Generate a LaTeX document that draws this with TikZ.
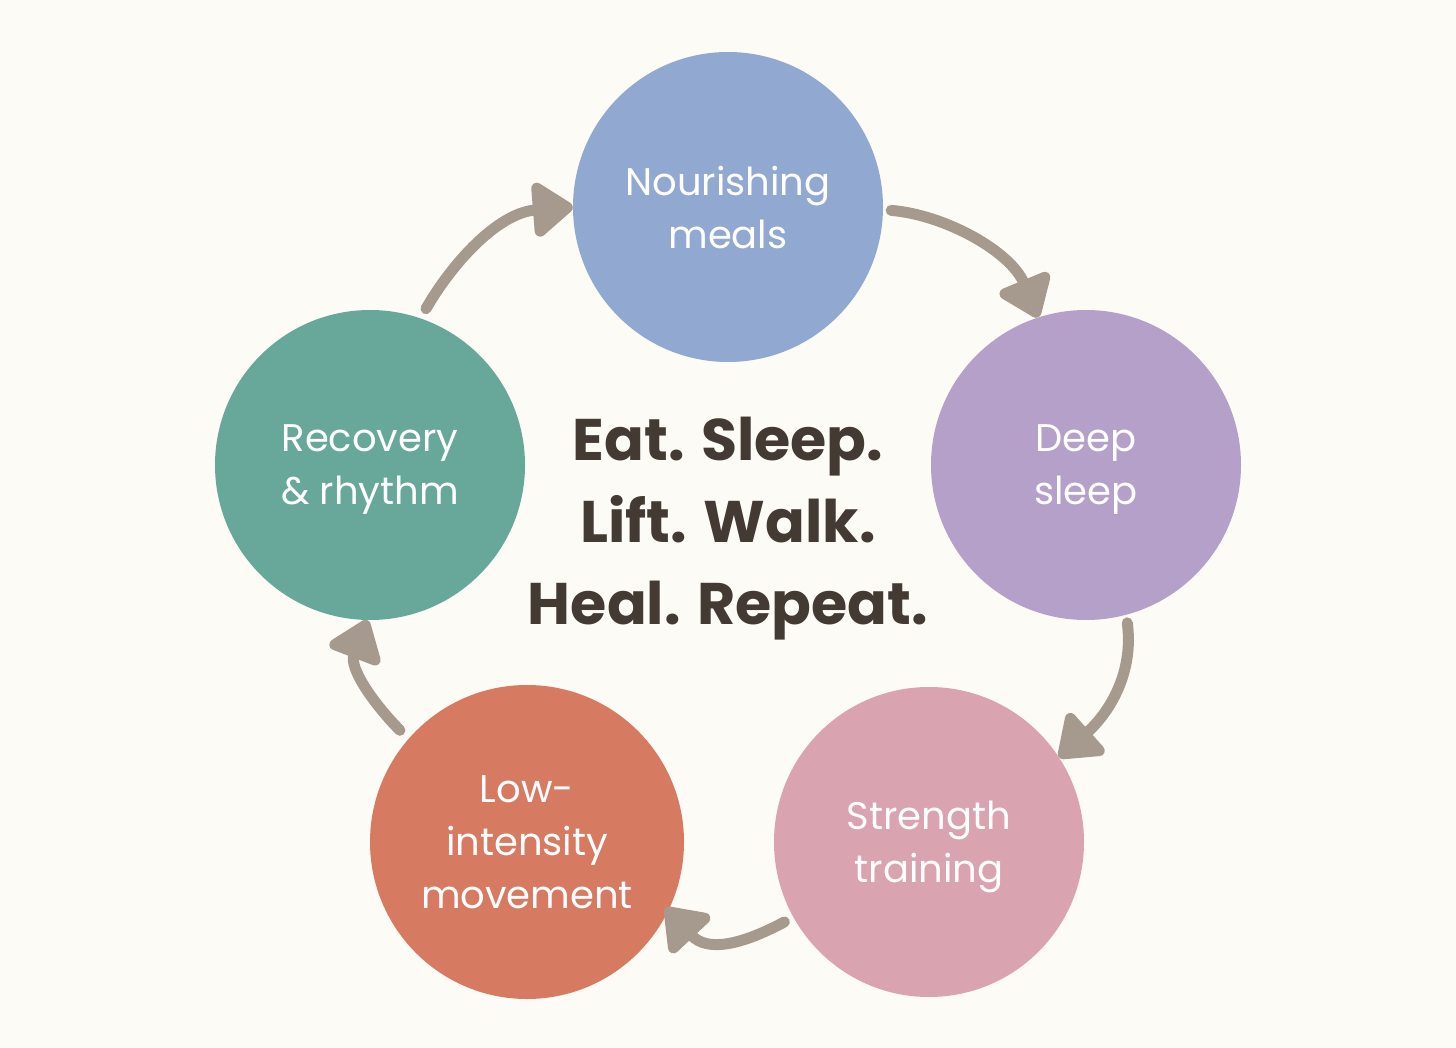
\documentclass[tikz,border=0pt]{standalone}
\usepackage{fontspec}
\setmainfont{Poppins}
\usetikzlibrary{arrows.meta}
\definecolor{bg}{HTML}{FDFBF6}
\definecolor{cmeal}{HTML}{91A8D0}
\definecolor{csleep}{HTML}{B4A0C8}
\definecolor{cstr}{HTML}{D9A3AF}
\definecolor{clow}{HTML}{D67B62}
\definecolor{crec}{HTML}{68A89B}
\definecolor{carr}{HTML}{A69A8E}
\definecolor{ctxt}{HTML}{433A33}
\tikzset{
  bubble/.style={circle, minimum size=310pt, inner sep=0pt, text=white, align=center,
    text depth=0pt, font=\fontsize{38.5}{53}\selectfont},
  arr/.style={line width=11pt, color=carr, line cap=round,
    -{Triangle[length=44pt,width=62pt,round]}},
}
\begin{document}
\begin{tikzpicture}[x=1pt,y=-1pt]
\fill[bg] (0,0) rectangle (1456,1048);
\useasboundingbox (0,0) rectangle (1456,1048);
\node[bubble, fill=cmeal] (n1) at (728,207) {Nourishing\\meals};
\node[bubble, fill=csleep] (n2) at (1086,465) {Deep\\sleep};
\node[bubble, fill=cstr] (n3) at (929,842) {Strength\\training};
\node[bubble, fill=clow, minimum size=314pt] (n4) at (527,842) {Low-\\intensity\\movement};
\node[bubble, fill=crec] (n5) at (370,465) {Recovery\\\& rhythm};
\node[align=center, text=ctxt, font=\fontsize{58.7}{82}\selectfont\bfseries] (c) at (728,529) {Eat. Sleep.\\Lift. Walk.\\Heal. Repeat.};
\draw[arr, shorten <=8pt] (n1.-1) .. controls (946,215) and (1011,252) .. (n2.108);
\draw[arr, shorten <=8pt] (n2.-75) .. controls (1134,672) and (1110,712) .. (n3.33);
\draw[arr, shorten <=10pt, shorten >=-4pt] (n3.209) .. controls (743,944) and (708,953) .. (n4.-26);
\draw[arr, shorten <=12pt] (n4.139) .. controls (373,703) and (349,668) .. (n5.-91);
\draw[arr, shorten <=11pt] (n5.71) .. controls (451,265) and (497,213) .. (n1.180);
\end{tikzpicture}
\end{document}
